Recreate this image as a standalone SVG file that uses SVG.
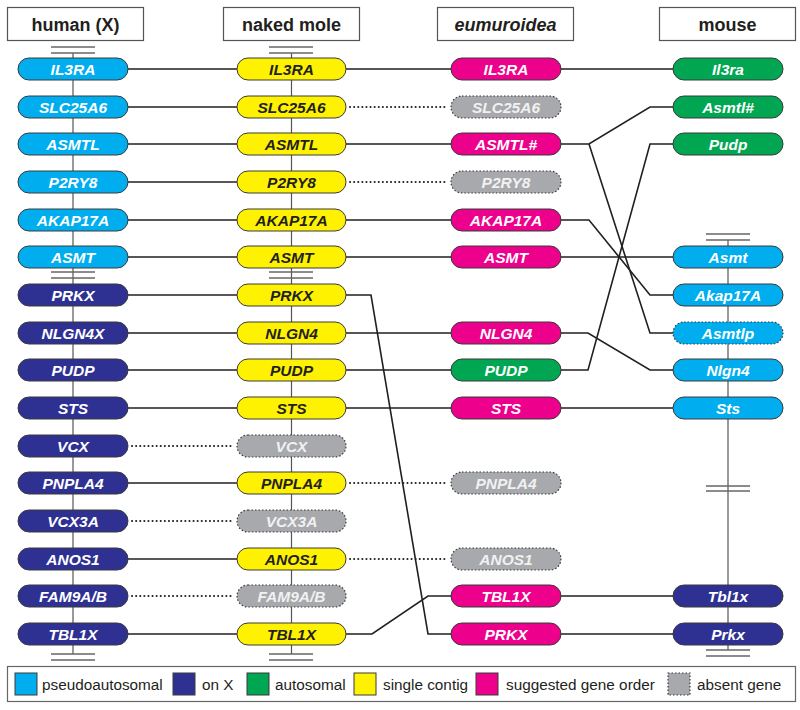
<svg xmlns="http://www.w3.org/2000/svg" width="800" height="710" viewBox="0 0 800 710">
<style>
.hdr{fill:#fff;stroke:#555;stroke-width:1.2}
.ht{font-family:"Liberation Sans",Arial,sans-serif;font-weight:bold;font-size:18px;fill:#231f20;text-anchor:middle}
.p{stroke:#3a3a3a;stroke-width:1}
.ab{fill:#a7a9ac;stroke:#3a3a3a;stroke-width:1.2;stroke-dasharray:1.5 2}
.t{font-family:"Liberation Sans",Arial,sans-serif;font-weight:bold;font-style:italic;font-size:15.5px;text-anchor:middle;fill:#fff}
.dk{fill:#231f20}
.gt{fill:#f1f1f2}
.pa{fill:#00aeef}
.ox{fill:#2e3192}
.au{fill:#00a651}
.sc{fill:#fff200}
.sg{fill:#ec008c}
.c{fill:none;stroke:#231f20;stroke-width:1.6}
.d{fill:none;stroke:#231f20;stroke-width:2;stroke-dasharray:0.1 4;stroke-linecap:round}
.v{stroke:#555;stroke-width:1.2}
.br{stroke:#666;stroke-width:1.5}
.lt{font-family:"Liberation Sans",Arial,sans-serif;font-size:15.3px;fill:#231f20}
</style>

<g id="headers">
<g id="h-human"><rect class="hdr" x="7.5" y="7.5" width="136" height="33"/><text class="ht" x="75.5" y="30.5">human (X)</text></g>
<g id="h-naked"><rect class="hdr" x="223.5" y="7.5" width="136" height="33"/><text class="ht" x="291.5" y="30.5">naked mole</text></g>
<g id="h-eum"><rect class="hdr" x="437.5" y="7.5" width="136" height="33"/><text class="ht" x="505.5" y="30.5" font-style="italic">eumuroidea</text></g>
<g id="h-mouse"><rect class="hdr" x="659.5" y="7.5" width="136" height="33"/><text class="ht" x="727.5" y="30.5">mouse</text></g>
</g>

<g id="backbones">
<line class="v" x1="73" y1="53" x2="73" y2="654"/>
<line class="br" x1="51" y1="47" x2="95" y2="47"/><line class="br" x1="51" y1="53" x2="95" y2="53"/>
<line class="br" x1="51" y1="272" x2="95" y2="272"/><line class="br" x1="51" y1="278" x2="95" y2="278"/>
<line class="br" x1="51" y1="654" x2="95" y2="654"/><line class="br" x1="51" y1="660" x2="95" y2="660"/>
<line class="v" x1="291.5" y1="53" x2="291.5" y2="654"/>
<line class="br" x1="269" y1="47" x2="313" y2="47"/><line class="br" x1="269" y1="53" x2="313" y2="53"/>
<line class="br" x1="269" y1="272" x2="313" y2="272"/><line class="br" x1="269" y1="278" x2="313" y2="278"/>
<line class="br" x1="269" y1="654" x2="313" y2="654"/><line class="br" x1="269" y1="660" x2="313" y2="660"/>
<line class="v" x1="728" y1="240" x2="728" y2="650"/>
<line class="br" x1="706" y1="234" x2="750" y2="234"/><line class="br" x1="706" y1="240" x2="750" y2="240"/>
<line class="br" x1="706" y1="486" x2="750" y2="486"/><line class="br" x1="706" y1="491" x2="750" y2="491"/>
<line class="br" x1="706" y1="650" x2="750" y2="650"/><line class="br" x1="706" y1="656" x2="750" y2="656"/>
</g>

<g id="connectors">
<path class="c" d="M128 69H237M346 69H451M561 69H673"/>
<path class="c" d="M128 107H237"/><path class="d" d="M350 107H447"/>
<path class="c" d="M128 144H237M346 144H451"/>
<path class="c" d="M561 144H589L650 107H673"/>
<path class="c" d="M589 144L650 333H673"/>
<path class="c" d="M128 182H237"/><path class="d" d="M350 182H447"/>
<path class="c" d="M128 220H237M346 220H451"/>
<path class="c" d="M561 220H589L650 295H673"/>
<path class="c" d="M128 257H237M346 257H451M561 257H673"/>
<path class="c" d="M128 295H237"/>
<path class="c" d="M346 295H371L428 634H451"/>
<path class="c" d="M128 333H237M346 333H451"/>
<path class="c" d="M561 333H588L650 370H673"/>
<path class="c" d="M128 370H237M346 370H451"/>
<path class="c" d="M561 370H588L650 144H673"/>
<path class="c" d="M128 408H237M346 408H451M561 408H673"/>
<path class="d" d="M132 446H233"/>
<path class="c" d="M128 483H237"/><path class="d" d="M350 483H447"/>
<path class="d" d="M132 521H233"/>
<path class="c" d="M128 559H237"/><path class="d" d="M350 559H447"/>
<path class="d" d="M132 596H233"/>
<path class="c" d="M561 596H673"/>
<path class="c" d="M128 634H237"/>
<path class="c" d="M346 634H372L428 596H451"/>
<path class="c" d="M561 634H673"/>
</g>

<g id="human">
<g id="hu-IL3RA"><rect class="p pa" x="18" y="58" width="110" height="22" rx="11"/><text class="t" x="73" y="74.5">IL3RA</text></g>
<g id="hu-SLC25A6"><rect class="p pa" x="18" y="96" width="110" height="22" rx="11"/><text class="t" x="73" y="112.5">SLC25A6</text></g>
<g id="hu-ASMTL"><rect class="p pa" x="18" y="133" width="110" height="22" rx="11"/><text class="t" x="73" y="149.5">ASMTL</text></g>
<g id="hu-P2RY8"><rect class="p pa" x="18" y="171" width="110" height="22" rx="11"/><text class="t" x="73" y="187.5">P2RY8</text></g>
<g id="hu-AKAP17A"><rect class="p pa" x="18" y="209" width="110" height="22" rx="11"/><text class="t" x="73" y="225.5">AKAP17A</text></g>
<g id="hu-ASMT"><rect class="p pa" x="18" y="246" width="110" height="22" rx="11"/><text class="t" x="73" y="262.5">ASMT</text></g>
<g id="hu-PRKX"><rect class="p ox" x="18" y="284" width="110" height="22" rx="11"/><text class="t" x="73" y="300.5">PRKX</text></g>
<g id="hu-NLGN4X"><rect class="p ox" x="18" y="322" width="110" height="22" rx="11"/><text class="t" x="73" y="338.5">NLGN4X</text></g>
<g id="hu-PUDP"><rect class="p ox" x="18" y="359" width="110" height="22" rx="11"/><text class="t" x="73" y="375.5">PUDP</text></g>
<g id="hu-STS"><rect class="p ox" x="18" y="397" width="110" height="22" rx="11"/><text class="t" x="73" y="413.5">STS</text></g>
<g id="hu-VCX"><rect class="p ox" x="18" y="435" width="110" height="22" rx="11"/><text class="t" x="73" y="451.5">VCX</text></g>
<g id="hu-PNPLA4"><rect class="p ox" x="18" y="472" width="110" height="22" rx="11"/><text class="t" x="73" y="488.5">PNPLA4</text></g>
<g id="hu-VCX3A"><rect class="p ox" x="18" y="510" width="110" height="22" rx="11"/><text class="t" x="73" y="526.5">VCX3A</text></g>
<g id="hu-ANOS1"><rect class="p ox" x="18" y="548" width="110" height="22" rx="11"/><text class="t" x="73" y="564.5">ANOS1</text></g>
<g id="hu-FAM9AB"><rect class="p ox" x="18" y="585" width="110" height="22" rx="11"/><text class="t" x="73" y="601.5">FAM9A/B</text></g>
<g id="hu-TBL1X"><rect class="p ox" x="18" y="623" width="110" height="22" rx="11"/><text class="t" x="73" y="639.5">TBL1X</text></g>
</g>

<g id="naked">
<g id="nm-IL3RA"><rect class="p sc" x="237" y="58" width="109" height="22" rx="11"/><text class="t dk" x="291.5" y="74.5">IL3RA</text></g>
<g id="nm-SLC25A6"><rect class="p sc" x="237" y="96" width="109" height="22" rx="11"/><text class="t dk" x="291.5" y="112.5">SLC25A6</text></g>
<g id="nm-ASMTL"><rect class="p sc" x="237" y="133" width="109" height="22" rx="11"/><text class="t dk" x="291.5" y="149.5">ASMTL</text></g>
<g id="nm-P2RY8"><rect class="p sc" x="237" y="171" width="109" height="22" rx="11"/><text class="t dk" x="291.5" y="187.5">P2RY8</text></g>
<g id="nm-AKAP17A"><rect class="p sc" x="237" y="209" width="109" height="22" rx="11"/><text class="t dk" x="291.5" y="225.5">AKAP17A</text></g>
<g id="nm-ASMT"><rect class="p sc" x="237" y="246" width="109" height="22" rx="11"/><text class="t dk" x="291.5" y="262.5">ASMT</text></g>
<g id="nm-PRKX"><rect class="p sc" x="237" y="284" width="109" height="22" rx="11"/><text class="t dk" x="291.5" y="300.5">PRKX</text></g>
<g id="nm-NLGN4"><rect class="p sc" x="237" y="322" width="109" height="22" rx="11"/><text class="t dk" x="291.5" y="338.5">NLGN4</text></g>
<g id="nm-PUDP"><rect class="p sc" x="237" y="359" width="109" height="22" rx="11"/><text class="t dk" x="291.5" y="375.5">PUDP</text></g>
<g id="nm-STS"><rect class="p sc" x="237" y="397" width="109" height="22" rx="11"/><text class="t dk" x="291.5" y="413.5">STS</text></g>
<g id="nm-VCX"><rect class="ab" x="237" y="435" width="109" height="22" rx="11"/><text class="t gt" x="291.5" y="451.5">VCX</text></g>
<g id="nm-PNPLA4"><rect class="p sc" x="237" y="472" width="109" height="22" rx="11"/><text class="t dk" x="291.5" y="488.5">PNPLA4</text></g>
<g id="nm-VCX3A"><rect class="ab" x="237" y="510" width="109" height="22" rx="11"/><text class="t gt" x="291.5" y="526.5">VCX3A</text></g>
<g id="nm-ANOS1"><rect class="p sc" x="237" y="548" width="109" height="22" rx="11"/><text class="t dk" x="291.5" y="564.5">ANOS1</text></g>
<g id="nm-FAM9AB"><rect class="ab" x="237" y="585" width="109" height="22" rx="11"/><text class="t gt" x="291.5" y="601.5">FAM9A/B</text></g>
<g id="nm-TBL1X"><rect class="p sc" x="237" y="623" width="109" height="22" rx="11"/><text class="t dk" x="291.5" y="639.5">TBL1X</text></g>
</g>

<g id="eumuroidea">
<g id="eu-IL3RA"><rect class="p sg" x="451" y="58" width="110" height="22" rx="11"/><text class="t" x="506" y="74.5">IL3RA</text></g>
<g id="eu-SLC25A6"><rect class="ab" x="451" y="96" width="110" height="22" rx="11"/><text class="t gt" x="506" y="112.5">SLC25A6</text></g>
<g id="eu-ASMTL"><rect class="p sg" x="451" y="133" width="110" height="22" rx="11"/><text class="t" x="506" y="149.5">ASMTL#</text></g>
<g id="eu-P2RY8"><rect class="ab" x="451" y="171" width="110" height="22" rx="11"/><text class="t gt" x="506" y="187.5">P2RY8</text></g>
<g id="eu-AKAP17A"><rect class="p sg" x="451" y="209" width="110" height="22" rx="11"/><text class="t" x="506" y="225.5">AKAP17A</text></g>
<g id="eu-ASMT"><rect class="p sg" x="451" y="246" width="110" height="22" rx="11"/><text class="t" x="506" y="262.5">ASMT</text></g>
<g id="eu-NLGN4"><rect class="p sg" x="451" y="322" width="110" height="22" rx="11"/><text class="t" x="506" y="338.5">NLGN4</text></g>
<g id="eu-PUDP"><rect class="p au" x="451" y="359" width="110" height="22" rx="11"/><text class="t" x="506" y="375.5">PUDP</text></g>
<g id="eu-STS"><rect class="p sg" x="451" y="397" width="110" height="22" rx="11"/><text class="t" x="506" y="413.5">STS</text></g>
<g id="eu-PNPLA4"><rect class="ab" x="451" y="472" width="110" height="22" rx="11"/><text class="t gt" x="506" y="488.5">PNPLA4</text></g>
<g id="eu-ANOS1"><rect class="ab" x="451" y="548" width="110" height="22" rx="11"/><text class="t gt" x="506" y="564.5">ANOS1</text></g>
<g id="eu-TBL1X"><rect class="p sg" x="451" y="585" width="110" height="22" rx="11"/><text class="t" x="506" y="601.5">TBL1X</text></g>
<g id="eu-PRKX"><rect class="p sg" x="451" y="623" width="110" height="22" rx="11"/><text class="t" x="506" y="639.5">PRKX</text></g>
</g>

<g id="mouse">
<g id="mo-Il3ra"><rect class="p au" x="673" y="58" width="110" height="22" rx="11"/><text class="t" x="728" y="74.5">Il3ra</text></g>
<g id="mo-Asmtl"><rect class="p au" x="673" y="96" width="110" height="22" rx="11"/><text class="t" x="728" y="112.5">Asmtl#</text></g>
<g id="mo-Pudp"><rect class="p au" x="673" y="133" width="110" height="22" rx="11"/><text class="t" x="728" y="149.5">Pudp</text></g>
<g id="mo-Asmt"><rect class="p pa" x="673" y="246" width="110" height="22" rx="11"/><text class="t" x="728" y="262.5">Asmt</text></g>
<g id="mo-Akap17A"><rect class="p pa" x="673" y="284" width="110" height="22" rx="11"/><text class="t" x="728" y="300.5">Akap17A</text></g>
<g id="mo-Asmtlp"><rect class="pa" x="673" y="322" width="110" height="22" rx="11" stroke="#3a3a3a" stroke-width="1.2" stroke-dasharray="1.5 2"/><text class="t" x="728" y="338.5">Asmtlp</text></g>
<g id="mo-Nlgn4"><rect class="p pa" x="673" y="359" width="110" height="22" rx="11"/><text class="t" x="728" y="375.5">Nlgn4</text></g>
<g id="mo-Sts"><rect class="p pa" x="673" y="397" width="110" height="22" rx="11"/><text class="t" x="728" y="413.5">Sts</text></g>
<g id="mo-Tbl1x"><rect class="p ox" x="673" y="585" width="110" height="22" rx="11"/><text class="t" x="728" y="601.5">Tbl1x</text></g>
<g id="mo-Prkx"><rect class="p ox" x="673" y="623" width="110" height="22" rx="11"/><text class="t" x="728" y="639.5">Prkx</text></g>
</g>

<g id="legend">
<rect x="7.5" y="666.5" width="788" height="35" fill="#fff" stroke="#666" stroke-width="1.2"/>
<rect class="p pa" x="15" y="673" width="22" height="22"/><text class="lt" x="42" y="690">pseudoautosomal</text>
<rect class="p ox" x="173" y="673" width="22" height="22"/><text class="lt" x="202" y="690">on X</text>
<rect class="p au" x="247" y="673" width="22" height="22"/><text class="lt" x="275" y="690">autosomal</text>
<rect class="p sc" x="354" y="673" width="22" height="22"/><text class="lt" x="383" y="690">single contig</text>
<rect class="p sg" x="476" y="673" width="22" height="22"/><text class="lt" x="506" y="690">suggested gene order</text>
<rect class="ab" x="668" y="673" width="22" height="22"/><text class="lt" x="697" y="690">absent gene</text>
</g>
</svg>
